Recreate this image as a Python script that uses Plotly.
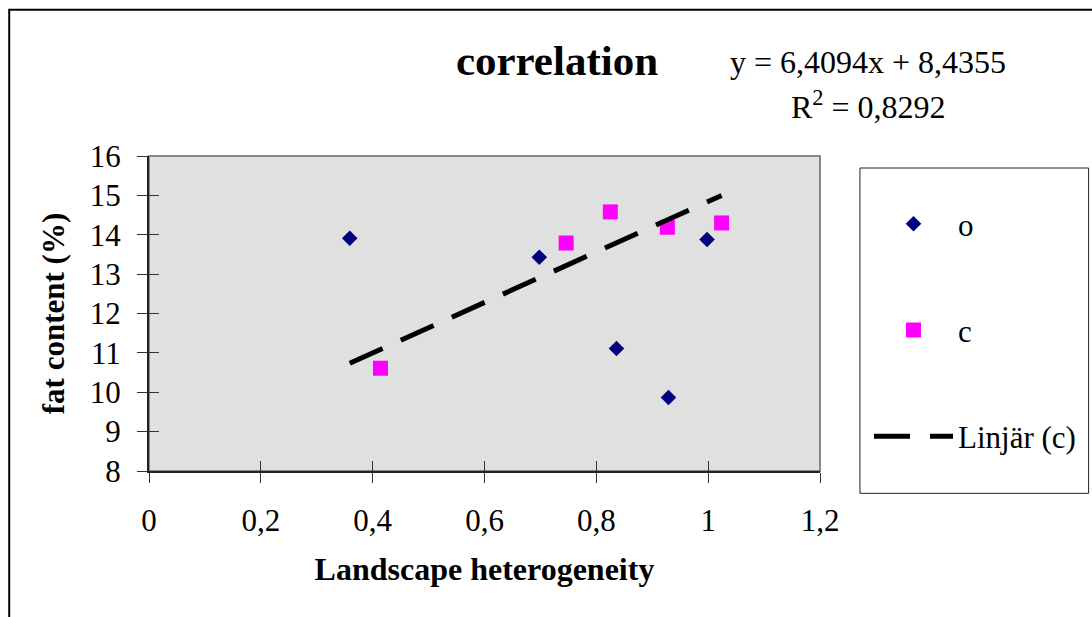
import plotly.graph_objects as go

# ---- data ----
o_x = [0.359, 0.698, 0.836, 0.929, 0.998]
o_y = [13.91, 13.43, 11.11, 9.865, 13.88]
c_x = [0.414, 0.746, 0.825, 0.927, 1.024]
c_y = [10.61, 13.79, 14.58, 14.19, 14.30]
slope = 6.4094
intercept = 8.4355
r2 = 0.8292

x_range = [0, 1.2]
y_range = [8, 16]
x_dtick = 0.2
y_dtick = 1

FONT = "Liberation Serif"

def fmt(v):
    return f"{v}".replace(".", ",")

trend_x = [min(o_x + c_x), max(c_x)]
trend_y = [slope * v + intercept for v in trend_x]

fig = go.Figure()
fig.add_trace(go.Scatter(x=o_x, y=o_y, mode="markers", name="o", legendgroup="o",
                         marker=dict(symbol="diamond", size=12, color="#000080",
                                     line=dict(width=0))))
fig.add_trace(go.Scatter(x=c_x, y=c_y, mode="markers", name="c", legendgroup="c",
                         marker=dict(symbol="square", size=15, color="#FF00FF",
                                     line=dict(width=0))))
fig.add_trace(go.Scatter(x=trend_x, y=trend_y, mode="lines", name="Linjär (c)",
                         legendgroup="t",
                         line=dict(color="black", width=5, dash="36px,20px")))

W, H = 1092, 617
L, R, T, B = 149, 821, 156, 470.7

def px_x(p):
    return (p - L) / (R - L)

def px_y(p):
    return (B - p) / (B - T)

axis_common = dict(showgrid=False, zeroline=False)

fig.update_layout(
    width=W, height=H,
    margin=dict(l=L, r=W - R, t=T, b=H - B),
    paper_bgcolor="white",
    plot_bgcolor="#E0E0E0",
    separators=", ",
    font=dict(family=FONT, size=31, color="black"),
    title=dict(text="<b>correlation</b>", x=557 / W, y=1 - 60 / H,
               xanchor="center", yanchor="middle",
               font=dict(family=FONT, size=43, color="black")),
    xaxis=dict(range=x_range, dtick=x_dtick, tick0=0, ticks="outside", ticklen=10,
               tickcolor="#333", tickwidth=1, showline=True, linecolor="#222",
               linewidth=2, ticklabelstandoff=11,
               tickfont=dict(family=FONT, size=31),
               title=dict(text="<b>Landscape heterogeneity</b>", standoff=20,
                          font=dict(family=FONT, size=32)),
               **axis_common),
    yaxis=dict(range=y_range, dtick=y_dtick, tick0=8, ticks="outside", ticklen=10,
               tickcolor="#333", tickwidth=1, showline=True, linecolor="#222",
               linewidth=2, ticklabelstandoff=10,
               tickfont=dict(family=FONT, size=31),
               title=dict(text="<b>fat content (%)</b>", standoff=16,
                          font=dict(family=FONT, size=31)),
               **axis_common),
    xaxis2=dict(range=x_range, dtick=x_dtick, tick0=0, overlaying="x", anchor="y",
                side="bottom", ticks="inside", ticklen=10, tickcolor="#333",
                tickwidth=1, showticklabels=False, showline=False, **axis_common),
    yaxis2=dict(range=y_range, dtick=y_dtick, tick0=8, overlaying="y", anchor="x",
                side="left", ticks="inside", ticklen=10, tickcolor="#333",
                tickwidth=1, showticklabels=False, showline=False, **axis_common),
    legend=dict(x=px_x(869), y=px_y(197), xanchor="left", yanchor="top",
                bgcolor="rgba(0,0,0,0)", borderwidth=0, itemwidth=79,
                traceorder="grouped", tracegroupgap=63,
                font=dict(family=FONT, size=31, color="black")),
    showlegend=True,
)

# dummy trace to activate the overlay axes (no visible marks)
fig.add_trace(go.Scatter(x=[None], y=[None], xaxis="x2", yaxis="y2",
                         showlegend=False, hoverinfo="skip"))

# plot-area border (top/right gray), legend frame and outer chart frame
fig.add_shape(type="rect", xref="paper", yref="paper", x0=0, x1=1, y0=0, y1=1,
              line=dict(color="#888", width=2), layer="below")
fig.add_shape(type="rect", xref="paper", yref="paper",
              x0=px_x(861), x1=px_x(1090), y0=px_y(493), y1=px_y(168),
              line=dict(color="#222", width=1))
fig.add_shape(type="rect", xref="paper", yref="paper",
              x0=px_x(9), x1=px_x(1110), y0=px_y(640), y1=px_y(10),
              line=dict(color="black", width=2))

fig.add_annotation(text=f"y = {fmt(slope)}x + {fmt(intercept)}",
                   xref="paper", yref="paper", x=px_x(869), y=px_y(62),
                   xanchor="center", yanchor="middle", showarrow=False,
                   font=dict(family=FONT, size=32, color="black"))
fig.add_annotation(text=f"R<sup>2</sup> = {fmt(r2)}",
                   xref="paper", yref="paper", x=px_x(870), y=px_y(105),
                   xanchor="center", yanchor="middle", showarrow=False,
                   font=dict(family=FONT, size=32, color="black"))

fig.write_html("out.html")
